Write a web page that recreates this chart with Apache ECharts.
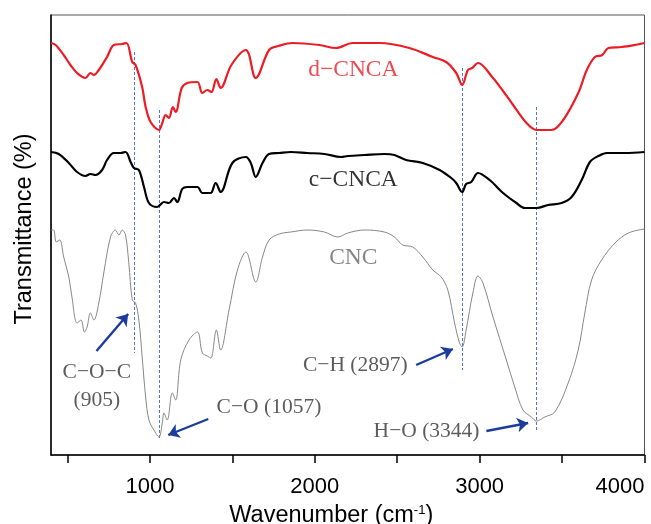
<!DOCTYPE html>
<html><head><meta charset="utf-8">
<script src="https://cdn.jsdelivr.net/npm/echarts@6/dist/echarts.min.js"></script>
<style>html,body{margin:0;padding:0;background:#fff}#c{width:651px;height:524px}</style>
</head><body><div id="c"></div>
<script>
// Spectra as [wavenumber, transmittance (offset, arbitrary units)]
const dCNCA = [[400,413],[428,411],[477,401],[518,391],[558,383],[609,378],[639,383],[660,381],[690,386],[740,399],[781,411],[832,412],[858,413],[893,394],[913,391],[953,369],[974,349],[1004,334],[1055,326],[1075,333],[1095,341],[1115,338],[1139,349],[1156,344],[1193,368],[1227,373],[1288,374],[1318,363],[1348,366],[1373,364],[1403,377],[1429,368],[1494,391],[1582,406],[1642,378],[1723,406],[1780,410],[1865,413],[2027,411],[2129,408],[2230,413],[2392,413],[2574,408],[2716,399],[2797,394],[2858,383],[2894,371],[2929,386],[2955,388],[2990,393],[3081,378],[3142,365],[3203,351],[3284,333],[3345,326],[3436,326],[3507,336],[3598,363],[3650,386],[3699,399],[3744,401],[3781,408],[3862,409],[3940,411],[4000,413]];
const cCNCA = [[400,304],[447,302],[508,293],[558,284],[609,280],[639,282],[670,281],[710,286],[740,296],[781,303],[822,303],[852,304],[883,294],[903,288],[933,286],[964,269],[994,253],[1044,249],[1085,254],[1115,253],[1146,258],[1166,254],[1196,267],[1227,269],[1288,269],[1318,263],[1348,263],[1369,263],[1399,273],[1429,264],[1500,293],[1582,299],[1612,293],[1642,279],[1683,293],[1723,302],[1784,303],[1855,304],[1956,303],[2058,302],[2159,299],[2200,300],[2301,301],[2422,302],[2483,301],[2554,296],[2655,293],[2757,286],[2828,278],[2858,273],[2894,264],[2918,272],[2949,274],[2990,283],[3061,276],[3142,263],[3223,253],[3274,248],[3345,248],[3416,251],[3497,253],[3558,259],[3619,276],[3669,294],[3720,300],[3771,303],[3881,303],[4000,304]];
const CNC = [[400,226],[416,226],[432,214],[453,216],[477,199],[508,179],[527,159],[558,133],[582,136],[603,124],[619,129],[639,143],[660,136],[690,153],[720,183],[761,219],[791,226],[812,221],[832,226],[852,221],[872,193],[893,156],[913,153],[933,136],[953,99],[974,59],[994,36],[1024,26],[1055,19],[1075,33],[1085,43],[1105,36],[1136,63],[1156,56],[1187,96],[1237,116],[1288,124],[1318,103],[1348,100],[1369,98],[1403,126],[1429,106],[1480,146],[1531,186],[1582,204],[1642,174],[1683,199],[1723,216],[1784,222],[1855,224],[1956,226],[2058,224],[2139,219],[2200,223],[2301,226],[2422,224],[2483,219],[2533,211],[2594,209],[2655,199],[2716,186],[2767,179],[2807,166],[2848,133],[2878,113],[2894,109],[2918,126],[2959,163],[2990,180],[3020,173],[3081,139],[3162,96],[3213,69],[3263,46],[3314,39],[3345,35],[3395,39],[3456,44],[3537,73],[3598,106],[3638,143],[3679,176],[3740,196],[3821,213],[3902,223],[4000,227]];

const seriesNames = ['d\u2212CNCA','c\u2212CNCA','CNC'];
const seriesLabelPos = [[2234,386],[2234,276],[2234,198]];

const peakText = ['C\u2212O\u2212C','(905)','C\u2212O (1057)','C\u2212H (2897)','H\u2212O (3344)'];
const peakTextPos = [[678,84],[678,56],[1722,49],[2246,91],[2678,25]];
const peakLines = [[905,404,103],[1057,346,16],[2897,388,86],[3344,349,24]];
const arrows = [[[676,105],[868,142]],[[1354,37],[1111,21]],[[2615,91],[2838,107]],[[3041,25],[3294,33]]];

const xTicks = [500,1000,1500,2000,2500,3000,3500,4000];
const xLabels = [1000,2000,3000,4000];

const colors = ['#ec1c24','#000000','#888888'];
const widths = [2.2,2.2,1];
const labelColors = ['#ec1c24','#000000','#666666'];

const chart = echarts.init(document.getElementById('c'), null, {renderer:'canvas'});
const specs = [dCNCA, cCNCA, CNC];
const series = specs.map((d,i)=>({
  type:'line', name:seriesNames[i], data:d, showSymbol:false, smooth:0.35,
  lineStyle:{color:colors[i], width:widths[i]}, silent:true, z:3
}));
series.push({
  type:'lines', coordinateSystem:'cartesian2d', silent:true, z:2,
  data: peakLines.map(p=>({coords:[[p[0],p[1]],[p[0],p[2]]]})),
  lineStyle:{color:'#3f64d4', width:1, type:[3,2], opacity:0.9}
});
series.push({
  type:'lines', coordinateSystem:'cartesian2d', silent:true, z:4,
  data: arrows.map(a=>({coords:a})),
  symbol:['none','arrow'], symbolSize:[8,11],
  lineStyle:{color:'#1c3c9c', width:2.4, opacity:1}
});
series.push({
  type:'scatter', symbolSize:0, silent:true, z:5,
  data: seriesNames.map((n,i)=>({name:n, value:seriesLabelPos[i],
    label:{show:true, position:'inside', formatter:'{b}', color:labelColors[i],
      fontFamily:'Liberation Serif', fontSize:23.5}}))
});
series.push({
  type:'scatter', symbolSize:0, silent:true, z:5,
  data: peakText.map((n,i)=>({name:n, value:peakTextPos[i],
    label:{show:true, position:'inside', formatter:'{b}', color:'#333333',
      fontFamily:'Liberation Serif', fontSize:21.5}}))
});

chart.setOption({
  animation:false,
  backgroundColor:'#fff',
  grid:{left:51, right:6.5, top:15, bottom:69, show:true, borderColor:'#555', borderWidth:1,
    containLabel:false, outerBoundsMode:'none'},
  xAxis:{
    type:'value', min:400, max:4000,
    name:'Wavenumber (cm{sup|-1})', nameLocation:'middle', nameGap:49,
    nameTextStyle:{fontFamily:'Liberation Sans', fontSize:23.5, color:'#000', padding:[0,33,0,0],
      rich:{sup:{fontFamily:'Liberation Sans', fontSize:13, verticalAlign:'top', padding:[0,0,9,0]}}},
    axisLine:{show:true, lineStyle:{color:'#000', width:1.5}},
    axisTick:{show:true, inside:false, length:8, customValues:xTicks, lineStyle:{color:'#000', width:1.5}},
    axisLabel:{customValues:xLabels, margin:21, fontFamily:'Liberation Sans', fontSize:22, color:'#000',
      alignMaxLabel:'right', formatter:v=>String(v)},
    splitLine:{show:false}
  },
  yAxis:{
    type:'value', min:1, max:441,
    name:'Transmittance (%)', nameLocation:'middle', nameGap:14, nameRotate:90,
    nameTextStyle:{fontFamily:'Liberation Sans', fontSize:23.5, color:'#000', padding:[0,0,0,12]},
    axisLine:{show:true, lineStyle:{color:'#000', width:1.5}},
    axisTick:{show:false}, axisLabel:{show:false}, splitLine:{show:false}
  },
  series
});
</script></body></html>
